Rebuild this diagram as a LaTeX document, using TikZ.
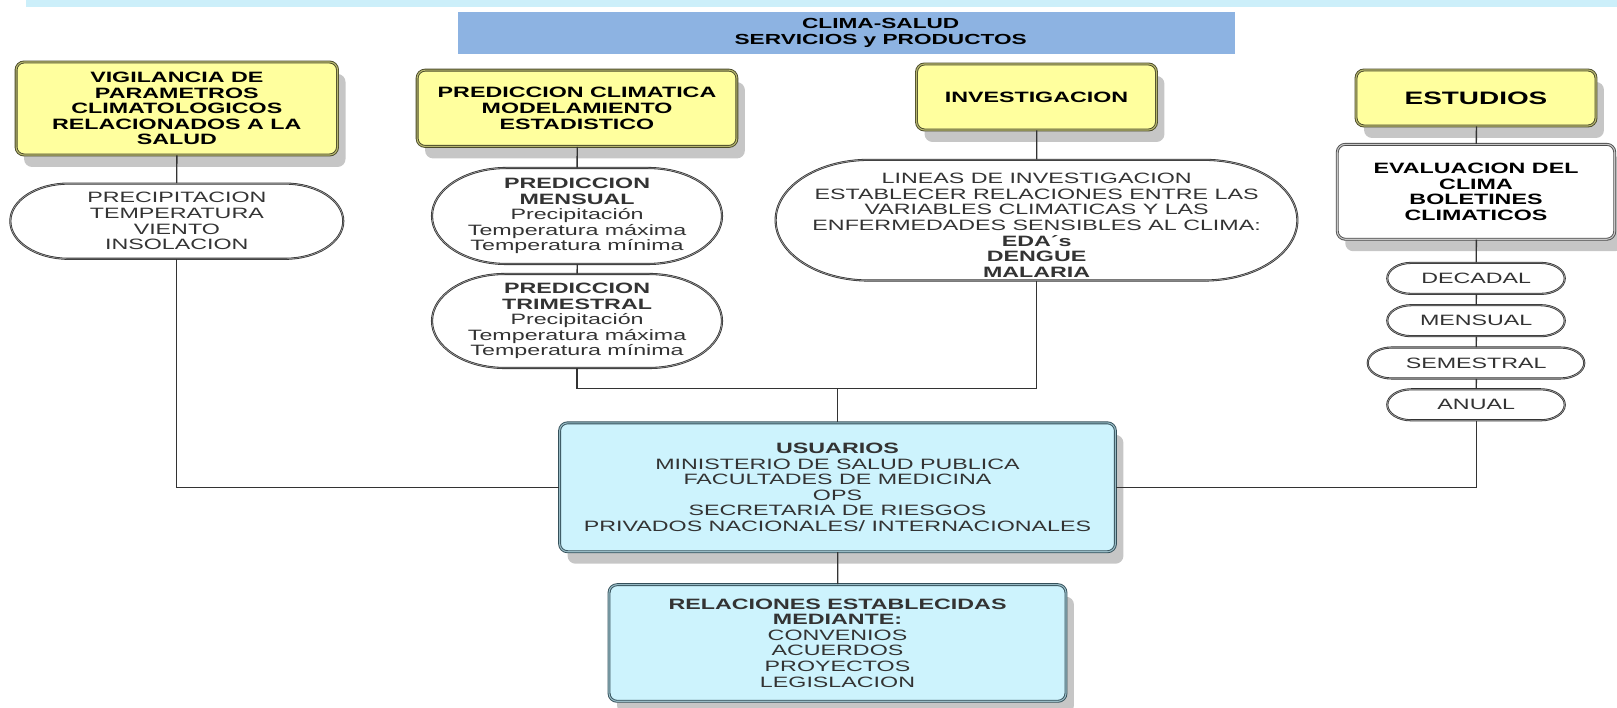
\documentclass[tikz,border=0pt]{standalone}
\usepackage{fontspec}
\setmainfont{Liberation Sans}
\usetikzlibrary{shapes.misc,shadows}

\definecolor{stripcyan}{HTML}{CCEFFA}
\definecolor{bannerblue}{HTML}{8DB3E2}
\definecolor{paleyellow}{HTML}{FFFF9E}
\definecolor{yellowrim}{HTML}{4A4A2A}
\definecolor{palecyan}{HTML}{CDF3FD}
\definecolor{cyanrim}{HTML}{34505A}
\definecolor{linkgray}{HTML}{333333}
\definecolor{shadowgray}{HTML}{C6C6C6}

\begin{document}
\begin{tikzpicture}[
  x=0.64516pt,
  y=1pt,
  xscale=1.55,
  transform shape,
  font=\fontsize{15}{15.6}\selectfont,
  banner/.style={
    rectangle,
    fill=bannerblue,
    minimum width=501.3,
    minimum height=41.2,
    inner sep=0pt
  },
  bannertext/.style={
    align=center,
    inner sep=0pt,
    font=\fontsize{14.6}{16.2}\selectfont\bfseries
  },
  headbox/.style={
    rectangle,
    rounded corners=8pt,
    draw=yellowrim,
    double=yellowrim!40!paleyellow,
    double distance=1.1pt,
    line width=0.9pt,
    fill=paleyellow,
    drop shadow={shadow xshift=8pt, shadow yshift=-12pt, fill=shadowgray, opacity=1},
    align=center,
    inner sep=0pt,
    font=\fontsize{15}{15.6}\selectfont\bfseries
  },
  evalbox/.style={
    headbox,
    draw=black!70,
    double=black!22,
    fill=white
  },
  userbox/.style={
    rectangle,
    rounded corners=8pt,
    draw=cyanrim,
    double=cyanrim!35!palecyan,
    double distance=1.1pt,
    line width=0.9pt,
    fill=palecyan,
    drop shadow={shadow xshift=8pt, shadow yshift=-12pt, fill=shadowgray, opacity=1},
    align=center,
    inner sep=0pt,
    text=black!80
  },
  capsule/.style={
    rounded rectangle,
    draw=black!80,
    double=black!30,
    double distance=0.5pt,
    line width=0.8pt,
    fill=white,
    inner sep=0pt
  },
  captext/.style={align=center, inner sep=0pt, text=black!80},
  link/.style={draw=linkgray, line width=1.3pt}
]
\useasboundingbox (0,0) rectangle (1617,708);

% ---------------------------------------------------------------------------
% Banner
% ---------------------------------------------------------------------------
\fill[stripcyan] (26,701) rectangle (1617,708);
\node[banner,
  label={[bannertext, xshift=22pt]center:{CLIMA-SALUD\\SERVICIOS y PRODUCTOS}}]
  (title) at (846.5,675) {};

% ---------------------------------------------------------------------------
% Vigilancia
% ---------------------------------------------------------------------------
\node[headbox, minimum width=207.4, minimum height=93] (vig) at (176.8,599.5)
  {VIGILANCIA DE\\PARAMETROS\\CLIMATOLOGICOS\\RELACIONADOS A LA\\SALUD};
\node[capsule, minimum width=214.8, minimum height=75.2,
  label={[captext]center:{PRECIPITACION\\TEMPERATURA\\VIENTO\\INSOLACION}}]
  (prec) at (176.8,486.8) {};

% ---------------------------------------------------------------------------
% Prediccion
% ---------------------------------------------------------------------------
\node[headbox, minimum width=206.3, minimum height=76.3] (pred) at (577,599.7)
  {PREDICCION CLIMATICA\\MODELAMIENTO\\ESTADISTICO};
\node[capsule, minimum width=187.1, minimum height=96,
  label={[captext]center:{\textbf{PREDICCION}\\\textbf{MENSUAL}\\Precipitación\\Temperatura máxima\\Temperatura mínima}}]
  (mens) at (577,492) {};
\node[capsule, minimum width=187.1, minimum height=94,
  label={[captext]center:{\textbf{PREDICCION}\\\textbf{TRIMESTRAL}\\Precipitación\\Temperatura máxima\\Temperatura mínima}}]
  (trim) at (577,387) {};

% ---------------------------------------------------------------------------
% Investigacion
% ---------------------------------------------------------------------------
\node[headbox, minimum width=154.8, minimum height=66] (inv) at (1036.5,611)
  {INVESTIGACION};
\node[capsule, minimum width=336.6, minimum height=120.7,
  label={[captext, yshift=-5pt]center:{LINEAS DE INVESTIGACION\\ESTABLECER RELACIONES ENTRE LAS\\VARIABLES CLIMATICAS Y LAS\\ENFERMEDADES SENSIBLES AL CLIMA:\\\textbf{EDA´s}\\\textbf{DENGUE}\\\textbf{MALARIA}}}]
  (lin) at (1036.5,487.8) {};

% ---------------------------------------------------------------------------
% Estudios
% ---------------------------------------------------------------------------
\node[headbox, minimum width=154.8, minimum height=56,
  font=\fontsize{18}{19}\selectfont\bfseries] (est) at (1476,610)
  {ESTUDIOS};
\node[evalbox, minimum width=179.0, minimum height=94.9] (eva) at (1476,516.2)
  {EVALUACION DEL\\CLIMA\\BOLETINES\\CLIMATICOS};
\node[capsule, minimum width=114.5, minimum height=31,
  label={[captext]center:DECADAL}] (dec) at (1476,429.6) {};
\node[capsule, minimum width=114.5, minimum height=31,
  label={[captext]center:MENSUAL}] (mes) at (1476,387.3) {};
\node[capsule, minimum width=139.7, minimum height=31,
  label={[captext]center:SEMESTRAL}] (sem) at (1476,345) {};
\node[capsule, minimum width=114.5, minimum height=31,
  label={[captext]center:ANUAL}] (anu) at (1476,303.2) {};

% ---------------------------------------------------------------------------
% Usuarios y relaciones
% ---------------------------------------------------------------------------
\node[userbox, minimum width=358.6, minimum height=128.9] (usu) at (837.5,220.7)
  {\textbf{USUARIOS}\\MINISTERIO DE SALUD PUBLICA\\FACULTADES DE MEDICINA\\OPS\\SECRETARIA DE RIESGOS\\PRIVADOS NACIONALES/ INTERNACIONALES};
\node[userbox, minimum width=294.8, minimum height=116.6] (rel) at (837.5,65)
  {\textbf{RELACIONES ESTABLECIDAS}\\\textbf{MEDIANTE:}\\CONVENIOS\\ACUERDOS\\PROYECTOS\\LEGISLACION};

% Connectors.
\coordinate (join) at (837.5,319.2);
\draw[link] (vig) -- (prec);
\draw[link] (prec.south) |- (usu.west);
\draw[link] (pred) -- (mens);
\draw[link] (mens) -- (trim);
\draw[link] (trim.south) |- (join) -| (lin.south);
\draw[link] (join) -- (usu.north);
\draw[link] (inv) -- (lin);
\draw[link] (est) -- (eva);
\draw[link] (eva) -- (dec);
\draw[link] (dec) -- (mes);
\draw[link] (mes) -- (sem);
\draw[link] (sem) -- (anu);
\draw[link] (anu.south) |- (usu.east);
\draw[link] (usu) -- (rel);

\end{tikzpicture}
\end{document}
